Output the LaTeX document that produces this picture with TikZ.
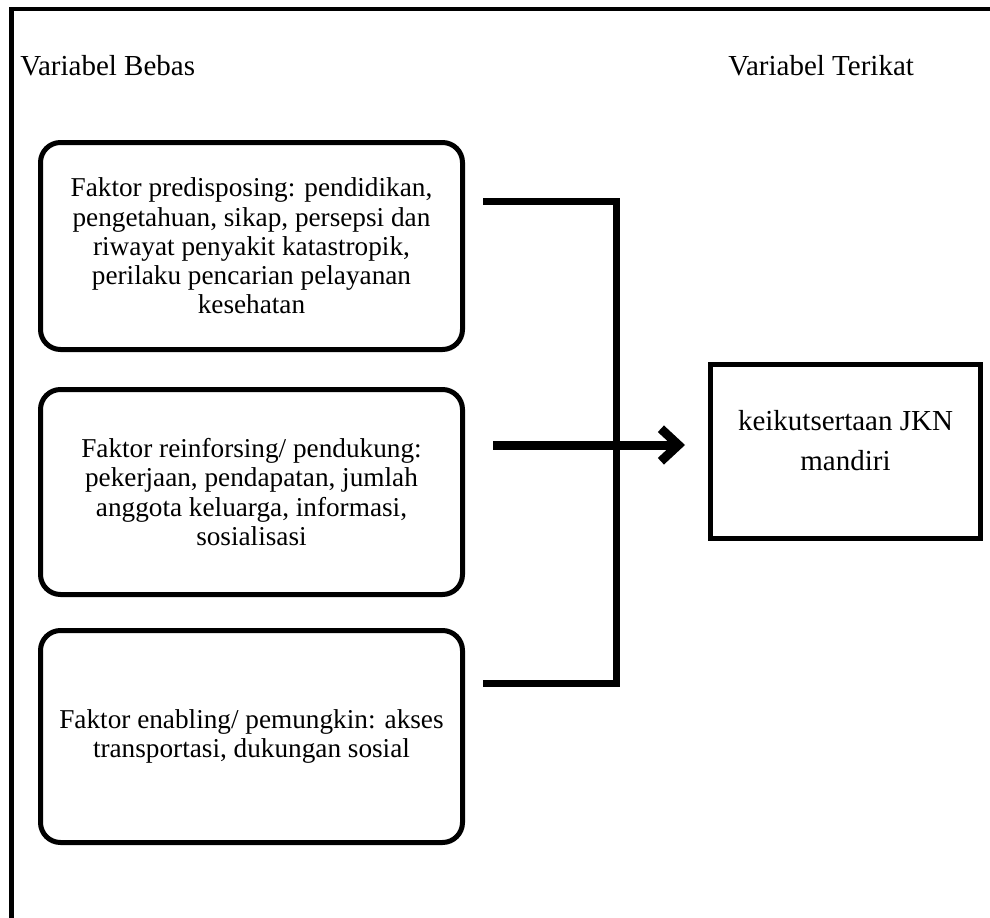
\documentclass[tikz,border=0pt]{standalone}
\usepackage{fontspec}
\setmainfont{Liberation Serif}
\usetikzlibrary{positioning,calc,arrows.meta}

\begin{document}
\begin{tikzpicture}[
  factor/.style={draw, line width=1mm, rounded corners=4mm, minimum width=84.4mm, minimum height=41.4mm, align=center, font=\fontsize{15.5}{16.6}\selectfont},
  outcome/.style={draw, line width=1mm, minimum width=54mm, minimum height=34.8mm},
  outtext/.style={align=center, inner sep=0pt, font=\fontsize{16.5}{23}\selectfont},
  heading/.style={anchor=base west, inner sep=0pt, font=\fontsize{16.5}{20}\selectfont},
  bracket/.style={line width=1.4mm},
  arrow/.style={-{Straight Barb[length=3.5mm,width=6.5mm]}, line width=1.8mm},
]
\useasboundingbox (0,0) rectangle (198mm,-183.6mm);
% outer frame
\draw[line width=0.9mm] (2.3mm,-190mm) -- (2.3mm,-1.8mm) -- (205mm,-1.8mm);

\node[heading] (bebas) at (4mm,-15.2mm) {Variabel Bebas};
\node[heading] (terikat) at (145.6mm,-15.2mm) {Variabel Terikat};

\node[factor] (pre) at (50.3mm,-49.2mm) {Faktor predisposing: pendidikan,\\pengetahuan, sikap, persepsi dan\\riwayat penyakit katastropik,\\perilaku pencarian pelayanan\\kesehatan};
\node[factor, minimum height=41mm] (rein) at (50.3mm,-98.4mm) {Faktor reinforsing/ pendukung:\\pekerjaan, pendapatan, jumlah\\anggota keluarga, informasi,\\sosialisasi};
\node[factor, minimum height=42.4mm] (enab) at (50.3mm,-147.3mm) {Faktor enabling/ pemungkin: akses\\transportasi, dukungan sosial};

\node[outcome] (jkn) at (169.1mm,-90.3mm) {};
\node[outtext] (jkntxt) at ($(jkn.center)+(0,2.2mm)$) {keikutsertaan JKN\\mandiri};

% bracket joining the three factors
\coordinate (b1) at (96.6mm,-40.3mm);
\coordinate (b2) at (123.2mm,-40.3mm);
\coordinate (b3) at (123.2mm,-136.6mm);
\coordinate (b4) at (96.6mm,-136.6mm);
\draw[bracket] (b1) -- (b2) -- (b3) -- (b4);

\coordinate (arr) at (98.6mm,-89mm);
\draw[arrow, shorten >=4.6mm] (arr) -- (arr -| jkn.west);
\end{tikzpicture}
\end{document}
